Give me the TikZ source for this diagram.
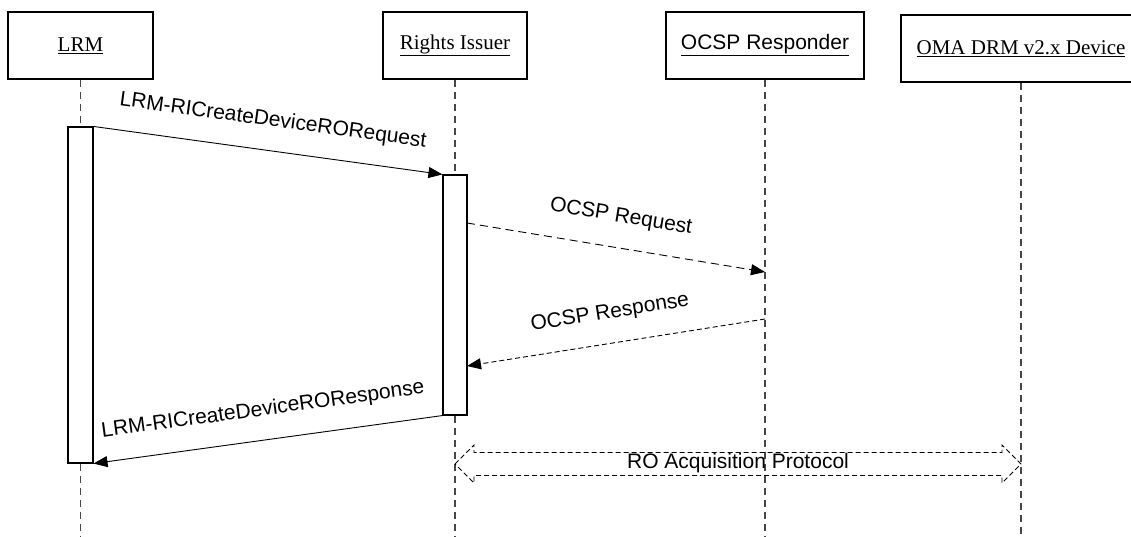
\documentclass[tikz,border=0pt]{standalone}
\usepackage{fontspec}
\setmainfont{Liberation Serif}
\newfontfamily\arialf{Liberation Sans}
\usetikzlibrary{arrows.meta}
\begin{document}
\begin{tikzpicture}[x=1pt,y=-1pt,
  objbox/.style={draw, line width=1.1pt, minimum height=67pt, inner sep=0pt, font=\fontsize{21}{25}\selectfont},
  lifeline/.style={draw=black!72, line width=1.2pt, dash pattern=on 7pt off 5pt},
  actbar/.style={draw, line width=1.1pt, fill=white, minimum width=25pt, inner sep=0pt},
  msg/.style={line width=0.9pt, -{Triangle[length=14pt,width=11pt]}},
  lbl/.style={font=\arialf\fontsize{21}{25}\selectfont, inner sep=0pt},
  blockarrow/.style={draw, line width=0.8pt, dash pattern=on 5pt off 3pt}
]
\useasboundingbox (0,0) rectangle (1131,537);
% objects
\node[objbox, minimum width=145pt] (LRM) at (80.5,45.5) {\underline{LRM}};
\node[objbox, minimum width=144pt] (RI) at (455,45.5) {\underline{Rights Issuer}};
\node[objbox, minimum width=198pt, font=\arialf\fontsize{21}{25}\selectfont] (OCSP) at (765,45.5) {\underline{OCSP Responder}};
\node[objbox, minimum width=240pt] (OMA) at (1021,48.5) {\underline{OMA DRM v2.x Device}};
% activation bars (positions)
\node[actbar, minimum height=336pt] (LRMbar) at (80.5,295) {};
\node[actbar, minimum width=24pt, minimum height=240pt] (RIbar) at (455,295) {};
% lifeline ends
\coordinate (LRMend) at (80.5,537);
\coordinate (RIend) at (455,537);
\coordinate (OCSPend) at (765,537);
\coordinate (OMAend) at (1021,537);
% lifelines
\draw[lifeline] (LRM.south) -- (LRMbar.north);
\draw[lifeline] (LRMbar.south) -- (LRMend);
\draw[lifeline] (RI.south) -- (RIbar.north);
\draw[lifeline] (RIbar.south) -- (RIend);
\draw[lifeline] (OCSP.south) -- (OCSPend);
\draw[lifeline] (OMA.south) -- (OMAend);
% redraw bars above lifelines
\node[actbar, minimum height=336pt] at (LRMbar) {};
\node[actbar, minimum width=24pt, minimum height=240pt] at (RIbar) {};
% message points
\coordinate (reqS) at (467,223);
\coordinate (reqE) at (765,272);
\coordinate (resS) at (765,319);
\coordinate (resE) at (467,366);
% messages
\draw[msg] (LRMbar.north east) -- (RIbar.north west);
\draw[msg, dash pattern=on 8pt off 5pt] (reqS) -- (reqE);
\draw[msg, dash pattern=on 5pt off 3pt] (resS) -- (resE);
\draw[msg] (RIbar.south west) -- (LRMbar.south east);
% labels
\node[lbl, rotate=-7.8] (l1) at (273,121) {LRM-RICreateDeviceRORequest};
\node[lbl, rotate=-9.3] (l2) at (621,217) {OCSP Request};
\node[lbl, rotate=9.0] (l3) at (610,313) {OCSP Response};
\node[lbl, rotate=7.8] (l4) at (263,410) {LRM-RICreateDeviceROResponse};
% RO acquisition block arrow
\coordinate (roL) at (455,464);
\coordinate (roR) at (1021,464);
\draw[blockarrow] (roL) -- ++(19,-19) -- ++(0,7.5) -- (1002,452.5) -- ++(0,-7.5) -- (roR)
  -- (1002,483) -- ++(0,-7.5) -- (474,475.5) -- ++(0,7.5) -- cycle;
\node[lbl] (ro) at (738,463) {RO Acquisition Protocol};
\end{tikzpicture}
\end{document}
